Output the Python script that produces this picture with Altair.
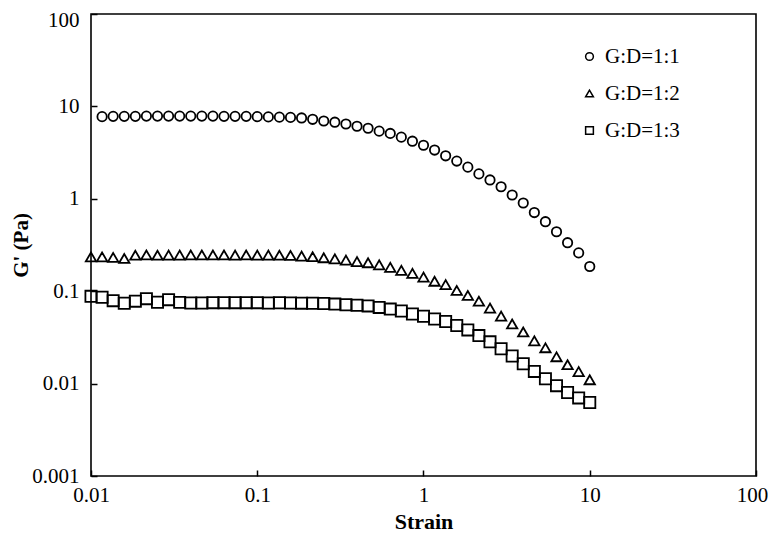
import altair as alt
import pandas as pd

# Strain grid (log-spaced, 15 points per decade)
strain = [0.01, 0.01166, 0.01359, 0.01585, 0.01848, 0.02154, 0.02512, 0.02929, 0.03415, 0.03981,
          0.04642, 0.05412, 0.0631, 0.07356, 0.08577,
          0.1, 0.1166, 0.1359, 0.1585, 0.1848, 0.2154, 0.2512, 0.2929, 0.3415, 0.3981,
          0.4642, 0.5412, 0.631, 0.7356, 0.8577,
          1, 1.166, 1.359, 1.585, 1.848, 2.154, 2.512, 2.929, 3.415, 3.981,
          4.642, 5.412, 6.31, 7.356, 8.577, 10]

# G:D=1:1 starts at the second strain point
strain_11 = strain[1:]
gp_11 = [7.75, 7.8, 7.8, 7.8, 7.85, 7.85, 7.85, 7.85, 7.85, 7.85, 7.85, 7.8, 7.8, 7.8,
         7.75, 7.7, 7.65, 7.6, 7.5, 7.25, 6.95, 6.75, 6.45, 6.1, 5.8, 5.4, 5.1, 4.65,
         4.2, 3.8, 3.37, 2.92, 2.56, 2.2, 1.86, 1.6, 1.35, 1.1, 0.9, 0.71, 0.565, 0.44,
         0.335, 0.26, 0.185]

gp_12 = [0.235, 0.235, 0.232, 0.226, 0.245, 0.247, 0.245, 0.246, 0.246, 0.247, 0.247,
         0.247, 0.247, 0.246, 0.247, 0.246, 0.246, 0.245, 0.244, 0.24, 0.236, 0.23,
         0.224, 0.217, 0.209, 0.203, 0.193, 0.181, 0.168, 0.156, 0.142, 0.128, 0.118,
         0.102, 0.09, 0.078, 0.0656, 0.0538, 0.0442, 0.0362, 0.029, 0.0244, 0.0195,
         0.016, 0.0135, 0.011]

gp_13 = [0.088, 0.086, 0.079, 0.074, 0.078, 0.083, 0.076, 0.081, 0.0757, 0.0745, 0.0745,
         0.0752, 0.0752, 0.0752, 0.0752, 0.0752, 0.0745, 0.075, 0.0745, 0.0742, 0.074,
         0.0736, 0.0725, 0.0713, 0.0705, 0.0693, 0.0668, 0.064, 0.061, 0.0566, 0.0535,
         0.05, 0.047, 0.0426, 0.0381, 0.0331, 0.0283, 0.0238, 0.0199, 0.0164, 0.01355,
         0.0113, 0.0095, 0.008, 0.007, 0.00625]

series_names = ["G:D=1:1", "G:D=1:2", "G:D=1:3"]
marker_keys = ["circle", "triangle", "square"]
x_ticks = [0.01, 0.1, 1, 10, 100]
y_ticks = [0.001, 0.01, 0.1, 1, 10, 100]

rows = []
for name, key, xs_, ys_ in zip(series_names, marker_keys, [strain_11, strain, strain],
                               [gp_11, gp_12, gp_13]):
    for xv, yv in zip(xs_, ys_):
        rows.append({"series": name, "marker": key, "strain": xv, "gp": yv})
df = pd.DataFrame(rows)

FONT = "Liberation Serif"
PLOT_H = 462
xscale = alt.Scale(type="log", domain=[0.01, 100], nice=False)
yscale = alt.Scale(type="log", domain=[0.001, 100], nice=False)

# Inward ticks: grid lines whose dash pattern keeps only 6 px next to the axis.
chart = alt.Chart(df).mark_point(filled=False, strokeWidth=1.8, color="black", opacity=1).encode(
    x=alt.X("strain:Q", scale=xscale,
            axis=alt.Axis(orient="bottom", values=x_ticks, format="~g", ticks=False, domain=False,
                          grid=True, gridColor="black", gridWidth=1.5, gridDash=[6, 3000],
                          gridDashOffset=3006 - (PLOT_H - 6), gridOpacity=1,
                          labelFont=FONT, labelFontSize=21, labelColor="black",
                          labelPadding=8, title="Strain", titleFont=FONT, titleFontSize=22,
                          titleFontWeight="bold", titleColor="black", titlePadding=6,
                          labelFlush=False,
                          labelOffset={"expr": "datum.value >= 100 ? -4 : 0"})),
    y=alt.Y("gp:Q", scale=yscale,
            axis=alt.Axis(orient="left", values=y_ticks, format="~g", ticks=False, domain=False,
                          grid=True, gridColor="black", gridWidth=1.5, gridDash=[6, 3000],
                          gridOpacity=1,
                          labelFont=FONT, labelFontSize=21, labelColor="black",
                          labelPadding=12, title="G' (Pa)", titleFont=FONT, titleFontSize=21,
                          titleFontWeight="bold", titleColor="black", titlePadding=0,
                          labelFlush=False,
                          labelOffset={"expr": "datum.value >= 100 ? 6 : 0"})),
    shape=alt.Shape("series:N",
                    scale=alt.Scale(domain=series_names, range=["circle", "triangle-up", "square"]),
                    legend=alt.Legend(title=None, orient="none", legendX=488, legendY=32,
                                      labelFont=FONT, labelFontSize=21, labelColor="black",
                                      symbolSize=60, symbolStrokeWidth=1.5,
                                      symbolStrokeColor="black", symbolFillColor="white",
                                      rowPadding=15, labelOffset=5)),
    size=alt.Size("marker:N", scale=alt.Scale(domain=marker_keys, range=[88, 125, 100]),
                  legend=None),
).properties(
    width=665, height=PLOT_H,
    autosize=alt.AutoSizeParams(type="none"),
    padding={"left": 83, "top": 6, "right": 12, "bottom": 58},
    background="white",
).configure_view(stroke="black", strokeWidth=1.6)

chart.save("out.html", embed_options={"renderer": "svg", "actions": False})
